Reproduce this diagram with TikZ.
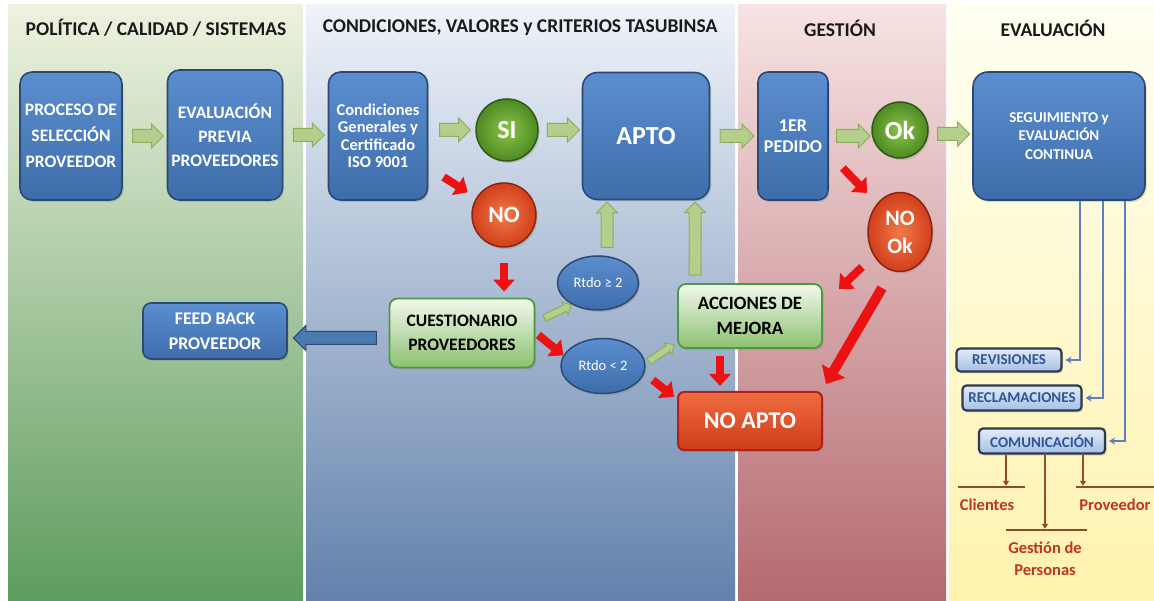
\documentclass[tikz,border=0pt]{standalone}
\usepackage{fontspec}
\setmainfont{Carlito}
\usetikzlibrary{shapes.geometric,shapes.arrows,arrows.meta,calc,shadows}
\definecolor{bTop}{HTML}{5B8ED0}
\definecolor{bBot}{HTML}{3E6DAA}
\definecolor{bBord}{HTML}{2A4A74}
\definecolor{gTop}{HTML}{F2F8EC}
\definecolor{gBot}{HTML}{8CC170}
\definecolor{gBord}{HTML}{4E9A43}
\definecolor{sIn}{HTML}{8CC34A}
\definecolor{sOut}{HTML}{4E8A22}
\definecolor{sBord}{HTML}{2F5A16}
\definecolor{rIn}{HTML}{F07A4A}
\definecolor{rOut}{HTML}{D13F1A}
\definecolor{rBord}{HTML}{8C2510}
\definecolor{naTop}{HTML}{EE6C40}
\definecolor{naBot}{HTML}{D03C1A}
\definecolor{naBord}{HTML}{B02018}
\definecolor{sbTop}{HTML}{E2ECF8}
\definecolor{sbBot}{HTML}{A6C0E2}
\definecolor{sbBord}{HTML}{2C3A52}
\definecolor{sbText}{HTML}{2F5597}
\definecolor{gaFill}{HTML}{B5CE8C}
\definecolor{gaBord}{HTML}{8BAE5E}
\definecolor{arrRed}{HTML}{EE1111}
\definecolor{conBlue}{HTML}{5F7EC2}
\definecolor{brn}{HTML}{8E4A2A}
\definecolor{brText}{HTML}{BE3526}
\definecolor{hdrText}{HTML}{1A1A1A}
\definecolor{p1T}{HTML}{EEF2E0}
\definecolor{p1M}{HTML}{C6D7AE}
\definecolor{p1B}{HTML}{5E9C5E}
\definecolor{p2T}{HTML}{EFF3FA}
\definecolor{p2M}{HTML}{D2DDEE}
\definecolor{p2B}{HTML}{6281AB}
\definecolor{p3T}{HTML}{F7E3E3}
\definecolor{p3M}{HTML}{E8BDBE}
\definecolor{p3B}{HTML}{B46A70}
\definecolor{p4T}{HTML}{FFFFF2}
\definecolor{p4M}{HTML}{FFF9D0}
\definecolor{p4B}{HTML}{FFF2AE}
\tikzset{
  shad/.style={drop shadow={opacity=0.3, shadow xshift=1.5pt, shadow yshift=-2pt}},
  hdr/.style={font=\bfseries\fontsize{19.5}{22}\selectfont, text=hdrText},
  bbox/.style={rectangle, rounded corners=12pt, draw=bBord, line width=1.6pt,
    top color=bTop, bottom color=bBot, text=white, align=center, shad,
    font=\bfseries\fontsize{17}{25}\selectfont, inner sep=0pt},
  gbox/.style={rectangle, rounded corners=8pt, draw=gBord, line width=1.8pt, shad,
    top color=gTop, bottom color=gBot, text=black, align=center,
    font=\bfseries\fontsize{17.5}{24}\selectfont, inner sep=0pt},
  gball/.style={circle, draw=sBord, line width=1.5pt, inner color=sIn, outer color=sOut, shad,
    text=white, font=\bfseries\fontsize{26}{28}\selectfont, inner sep=0pt},
  rball/.style={draw=rBord, line width=1.5pt, inner color=rIn, outer color=rOut, shad,
    text=white, font=\bfseries\fontsize{22}{28}\selectfont, inner sep=0pt, align=center},
  rtdo/.style={ellipse, draw=bBord, line width=1.5pt, top color=bTop, bottom color=bBot, shad,
    text=white, font=\fontsize{14.5}{16}\selectfont, inner sep=0pt},
  nabox/.style={rectangle, rounded corners=6pt, draw=naBord, line width=2pt, shad,
    top color=naTop, bottom color=naBot, text=white,
    font=\bfseries\fontsize{24}{27}\selectfont, inner sep=0pt},
  sbox/.style={rectangle, rounded corners=4pt, draw=sbBord, line width=2.2pt, shad,
    top color=sbTop, bottom color=sbBot, text=sbText,
    font=\bfseries\fontsize{15}{17}\selectfont, inner sep=0pt},
  garrow/.style={single arrow, draw=gaBord, fill=gaFill, line width=1pt,
    text height=6pt, text depth=6pt, text width=0pt,
    single arrow head extend=5.5pt, single arrow head indent=0pt,
    inner sep=0pt, sloped, allow upside down},
  uparrow/.style={garrow, text height=5.5pt, text depth=5.5pt, single arrow head extend=4.5pt},
  sgarrow/.style={garrow, text height=3pt, text depth=3pt, single arrow head extend=3.5pt},
  barrow/.style={garrow, draw=bBord, fill=bTop!85!black, text height=6pt, text depth=6pt,
    single arrow head extend=6pt},
  redarr/.style={draw=arrRed, line width=8pt, -{Triangle[length=12pt,width=21pt]}},
  bigredarr/.style={draw=arrRed, line width=10pt, -{Triangle[length=15pt,width=26pt]}},
  bcon/.style={draw=conBlue, line width=1.8pt, -{Stealth[length=6pt,width=7pt]}},
  brarr/.style={draw=brn, line width=1.5pt, -{Triangle[length=5pt,width=6pt]}},
  brbar/.style={rectangle, fill=brn, minimum height=2pt, inner sep=0pt},
  brlab/.style={text=brText, font=\bfseries\fontsize{16.5}{22}\selectfont, align=center},
}
\begin{document}
\begin{tikzpicture}[x=1pt,y=-1pt]
\useasboundingbox (0,0) rectangle (1154,601);
\fill[white] (0,0) rectangle (1154,601);
% panels
\shade[top color=p1T, middle color=p1M, bottom color=p1B] (8,5) rectangle (303,601);
\shade[top color=p2T, middle color=p2M, bottom color=p2B] (306,5) rectangle (735,601);
\shade[top color=p3T, middle color=p3M, bottom color=p3B] (738,5) rectangle (946,601);
\shade[top color=p4T, middle color=p4M, bottom color=p4B] (949,5) rectangle (1154,601);
% headers
\node[hdr] (h1) at (156,28) {POLÍTICA / CALIDAD / SISTEMAS};
\node[hdr] (h2) at (520,28) {CONDICIONES, VALORES y CRITERIOS TASUBINSA};
\node[hdr] (h3) at (840,28) {GESTIÓN};
\node[hdr] (h4) at (1053,28) {EVALUACIÓN};
% main row
\node[bbox, minimum width=102pt, minimum height=128pt, font=\bfseries\fontsize{17.5}{26}\selectfont] (proc) at (71,136) {PROCESO DE\\SELECCIÓN\\PROVEEDOR};
\node[bbox, minimum width=115pt, minimum height=130pt, font=\bfseries\fontsize{17.5}{24}\selectfont] (eval) at (225,135) {EVALUACIÓN\\PREVIA\\PROVEEDORES};
\node[bbox, minimum width=99pt, minimum height=128pt, font=\bfseries\fontsize{16.5}{17.5}\selectfont] (cond) at (378,136) {Condiciones\\Generales y\\Certificado\\ISO 9001};
\node[gball, minimum size=62pt] (si) at (507,130) {SI};
\node[bbox, minimum width=127pt, minimum height=127pt, rounded corners=15pt, font=\bfseries\fontsize{26}{28}\selectfont] (apto) at (646,136) {APTO};
\node[bbox, minimum width=70pt, minimum height=128pt, rounded corners=10pt, font=\bfseries\fontsize{18}{21}\selectfont] (ped) at (793,136) {1ER\\PEDIDO};
\node[gball, minimum size=56pt] (ok) at (900,130) {Ok};
\node[bbox, minimum width=172pt, minimum height=128pt, rounded corners=15pt, font=\bfseries\fontsize{15}{18.5}\selectfont] (seg) at (1059,136) {SEGUIMIENTO y\\EVALUACIÓN\\CONTINUA};
% second level
\node[rball, circle, minimum size=64pt, font=\bfseries\fontsize{23.5}{26}\selectfont] (no) at (504,215) {NO};
\node[rball, ellipse, minimum width=64pt, minimum height=79pt] (nook) at (900,232) {NO\\Ok};
\node[gbox, minimum width=145pt, minimum height=69pt] (cues) at (462,333) {CUESTIONARIO\\PROVEEDORES};
\node[bbox, minimum width=144pt, minimum height=56pt, rounded corners=8pt, font=\bfseries\fontsize{17.8}{25}\selectfont] (fb) at (215,331) {FEED BACK\\PROVEEDOR};
\node[rtdo, minimum width=81pt, minimum height=54pt] (rtdoge) at (598,283) {Rtdo ≥ 2};
\node[rtdo, minimum width=84pt, minimum height=55pt] (rtdolt) at (603,366) {Rtdo < 2};
\node[gbox, minimum width=144pt, minimum height=64pt, font=\bfseries\fontsize{18.8}{25}\selectfont] (acc) at (750,316) {ACCIONES DE\\MEJORA};
\node[nabox, minimum width=144pt, minimum height=58pt] (noapto) at (750,421) {NO APTO};
% evaluation boxes
\node[sbox, minimum width=105pt, minimum height=23pt] (rev) at (1009,360) {REVISIONES};
\node[sbox, minimum width=119pt, minimum height=25pt] (recl) at (1022,398) {RECLAMACIONES};
\node[sbox, minimum width=126pt, minimum height=25pt] (com) at (1042,441) {COMUNICACIÓN};
% green block arrows
\path (proc.east) -- node[garrow, minimum height=31pt]{} (proc.east -| eval.west);
\path (eval.east) -- node[garrow, minimum height=31pt]{} (eval.east -| cond.west);
\path (si.west -| cond.east) -- node[garrow, minimum height=31pt]{} (si.west);
\path (si.east) -- node[garrow, minimum height=32pt]{} (si.east -| apto.west);
\path (apto.east) -- node[garrow, minimum height=34pt]{} (apto.east -| ped.west);
\path (ped.east) -- node[garrow, minimum height=34pt]{} (ped.east -| ok.west);
\path ($(ok.east)+(0,4)$) coordinate (okr) -- node[garrow, minimum height=32pt]{} (okr -| seg.west);
\coordinate (u1) at ($(rtdoge.north)+(9,0)$);
\path (u1) -- node[uparrow, minimum height=45pt]{} (u1 |- apto.south);
\coordinate (u2) at ($(acc.north)+(-55,0)$);
\path (u2) -- node[uparrow, minimum height=73pt]{} (u2 |- apto.south);
\path ($(cues.east)+(5,-13)$) -- node[sgarrow, minimum height=30pt]{} (rtdoge.-140);
\path ($(rtdolt.east)+(2,-4)$) -- node[sgarrow, minimum height=30pt]{} ($(acc.south west)+(-5,-3)$);
% blue arrow to feed back
\path ($(cues.west)+(0,5)$) coordinate (cw) -- node[barrow, minimum height=83pt]{} (cw -| fb.east);
% red arrows
\draw[redarr, shorten <=18pt, shorten >=10pt] (cond) -- (no);
\draw[redarr, shorten <=15pt, shorten >=6pt] (no.south) -- (no.south |- cues.north);
\draw[redarr] ($(cues.east)+(3,2)$) -- (rtdolt.165);
\draw[redarr] ($(rtdolt.east)+(7,14)$) -- ($(noapto.north west)+(-3,6)$);
\draw[redarr] ($(acc.south)+(-30,7)$) -- ($(noapto.north)+(-30,-5)$);
\draw[redarr] ($(ped.east)+(14,32)$) -- ($(nook.center)+(-33,-39)$);
\draw[redarr] ($(nook.center)+(-38,35)$) -- ($(acc.north east)+(16,6)$);
\draw[bigredarr] ($(nook.center)+(-18,56)$) -- ($(noapto.north east)+(3,-7)$);
% evaluation connectors
\draw[bcon, shorten >=3pt] ($(seg.south)+(21,0)$) |- (rev.east);
\draw[bcon, shorten >=3pt] ($(seg.south)+(44,0)$) |- (recl.east);
\draw[bcon, shorten >=3pt] ($(seg.south)+(66,0)$) |- (com.east);
% communication branches
\node[brbar, minimum width=67pt] (clbar) at (991.5,487) {};
\node[brbar, minimum width=81pt] (gpbar) at (1046.5,530) {};
\node[brbar, minimum width=78pt] (prbar) at (1115,487) {};
\coordinate (c1) at ($(com.south)+(-36,0)$);
\coordinate (c2) at ($(com.south)+(3,0)$);
\coordinate (c3) at ($(com.south)+(41,0)$);
\draw[brarr] (c1) -- (c1 |- clbar.north);
\draw[brarr] (c2) -- (c2 |- gpbar.north);
\draw[brarr] (c3) -- (c3 |- prbar.north);
\node[brlab] (cli) at (987,505) {Clientes};
\node[brlab] (gp) at (1045,559) {Gestión de\\Personas};
\node[brlab] (prv) at (1115,505) {Proveedor};
\end{tikzpicture}
\end{document}
